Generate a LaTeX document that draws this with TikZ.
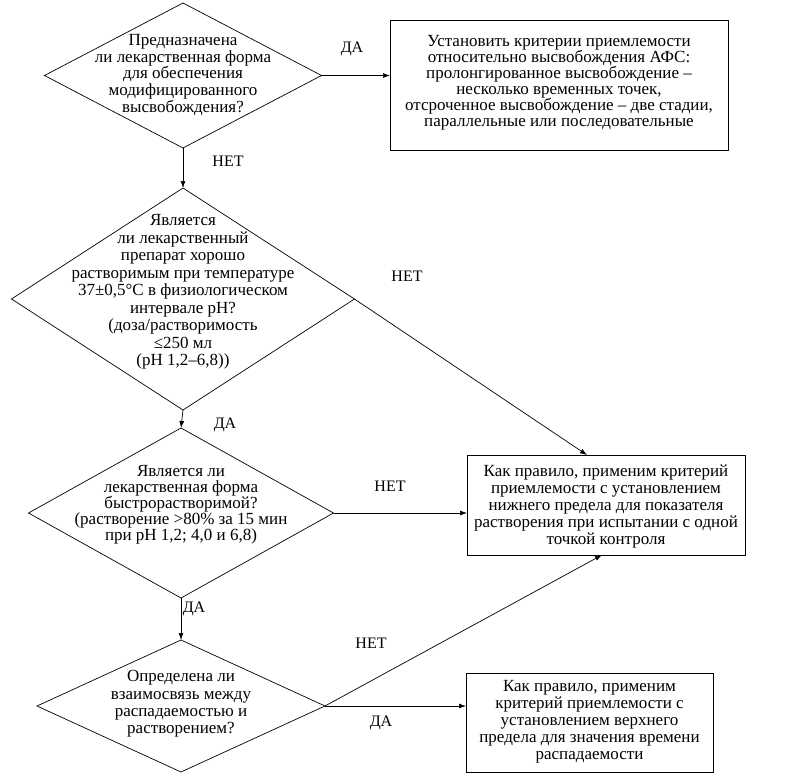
\documentclass[tikz,border=0pt]{standalone}
\usepackage{fontspec}
\setmainfont{Liberation Serif}
\usetikzlibrary{shapes.geometric,arrows.meta,calc}
\begin{document}
\begin{tikzpicture}[x=1pt,y=1pt,
  dia/.style={diamond,draw,line width=0.7pt,inner sep=0pt,outer sep=0pt},
  box/.style={draw,line width=0.8pt,inner sep=0pt,outer sep=0pt},
  txt/.style={align=center,inner sep=0pt,font=\fontsize{17}{17}\selectfont},
  lbl/.style={inner sep=0pt,font=\fontsize{16}{18}\selectfont},
  arr/.style={line width=0.7pt,-{Latex[length=7pt,width=5pt]}},
  ln/.style={line width=0.7pt}]
\useasboundingbox (0,0) rectangle (790,-776);
% diamonds
\node[dia,minimum width=277pt,minimum height=145pt] (d1) at (183,-75.5) {};
\node[txt,font=\fontsize{17}{16.8}\selectfont] (d1t) at (183,-75) {Предназначена\\ли лекарственная форма\\для обеспечения\\модифицированного\\высвобождения?};
\node[dia,minimum width=343pt,minimum height=222pt] (d2) at (183,-299) {};
\node[txt,font=\fontsize{17}{17.5}\selectfont] (d2t) at (183,-292) {Является\\ли лекарственный\\препарат хорошо\\растворимым при температуре\\37±0,5°C в физиологическом\\интервале pH?\\(доза/растворимость\\≤250 мл\\(pH 1,2–6,8))};
\node[dia,minimum width=305pt,minimum height=170pt] (d3) at (181,-513) {};
\node[txt,font=\fontsize{17}{16}\selectfont] (d3t) at (181,-505) {Является ли\\лекарственная форма\\быстрорастворимой?\\(растворение >80\% за 15 мин\\при pH 1,2; 4,0 и 6,8)};
\node[dia,minimum width=288pt,minimum height=132pt] (d4) at (181,-706) {};
\node[txt,font=\fontsize{17}{17.3}\selectfont] (d4t) at (181,-704) {Определена ли\\взаимосвязь между\\распадаемостью и\\растворением?};
% boxes
\node[box,minimum width=338pt,minimum height=130pt] (b1) at (559,-85) {};
\node[txt,font=\fontsize{17}{16}\selectfont] (b1t) at (559,-83) {Установить критерии приемлемости\\относительно высвобождения АФС:\\пролонгированное высвобождение –\\несколько временных точек,\\отсроченное высвобождение – две стадии,\\параллельные или последовательные};
\node[box,minimum width=278pt,minimum height=100pt] (b2) at (606,-505) {};
\node[txt] (b2t) at (606,-506) {Как правило, применим критерий\\приемлемости с установлением\\нижнего предела для показателя\\растворения при испытании с одной\\точкой контроля};
\node[box,minimum width=247pt,minimum height=99pt] (b3) at (589.5,-722.5) {};
\node[txt] (b3t) at (589.5,-722) {Как правило, применим\\критерий приемлемости с\\установлением верхнего\\предела для значения времени\\распадаемости};
% connectors
\draw[arr] (d1.east) -- (d1.east -| b1.west);
\draw[arr] (d1.south) -- (d2.north);
\draw[arr] (d2.east) -- ([xshift=120pt]b2.north west);
\draw[arr] (d2.south) -- (d3.north);
\draw[arr] (d3.east) -- (d3.east -| b2.west);
\draw[arr] (d3.south) -- (d4.north);
\draw[arr] (d4.east) -- ([xshift=135pt]b2.south west);
\draw[arr] (d4.east) -- (d4.east -| b3.west);
% labels
\node[lbl] (l1) at (352,-49) {ДА};
\node[lbl] (l2) at (228,-161) {НЕТ};
\node[lbl] (l3) at (407,-276) {НЕТ};
\node[lbl] (l4) at (225,-425) {ДА};
\node[lbl] (l5) at (390,-486) {НЕТ};
\node[lbl] (l6) at (194,-609) {ДА};
\node[lbl] (l7) at (371,-643) {НЕТ};
\node[lbl] (l8) at (381,-723) {ДА};
\end{tikzpicture}
\end{document}
